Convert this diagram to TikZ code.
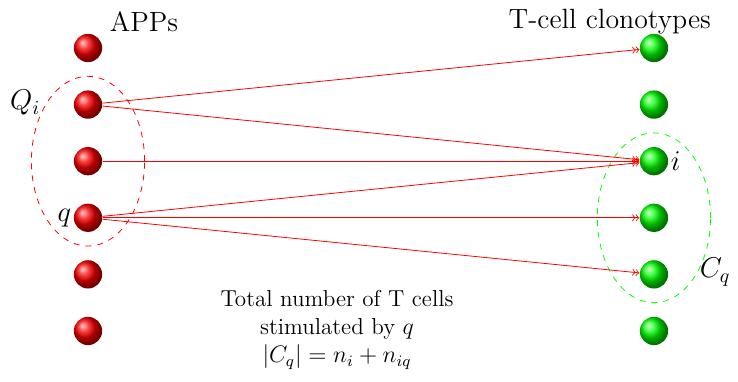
\documentclass[tikz,border=0pt]{standalone}
\usepackage{amsmath}
\usepackage{amssymb}
\usetikzlibrary{arrows}

\begin{document}
\begin{tikzpicture}[
		app/.style={circle, inner sep=0pt, minimum size=0.5cm, shading=ball, ball color=red},
		clono/.style={circle, inner sep=0pt, minimum size=0.5cm, shading=ball, ball color=green},
		stim/.style={red, ->>},
		etiq/.style={font=\fontsize{14}{17}\selectfont}]
	\useasboundingbox (-1.555,0.848) rectangle (11.485,-5.9);
	
	% Bolas de APPs y clonotipos
	\foreach \k in {0,...,5} {
		\node[app] (a\k) at (0,-\k) {};
		\node[clono] (c\k) at (10,-\k) {};
	}
	
	% Titulos
	\node[etiq] (apps) at (0.99,0.46) {APPs};
	\node[etiq] (tcells) at (9.22,0.46) {T-cell clonotypes};
	
	% Conjuntos Q_i y C_q
	\draw[red, dashed] (0,-2) ellipse (1 and 1.5);
	\draw[green, dashed] (10,-3) ellipse (1 and 1.5);
	\node[etiq] (Qi) at (-1.11,-0.97) {$Q_i$};
	\node[etiq, left, inner sep=1pt] (q) at (a3.west) {$q$};
	\node[etiq, right, inner sep=1pt] (i) at (c2.east) {$i$};
	\node[etiq] (Cq) at (11.08,-3.96) {$C_q$};
	
	% Estimulaciones
	\foreach \from/\to in {1/0, 1/2, 2/2, 3/2, 3/3, 3/4} {
		\draw[stim] (a\from) -- (c\to);
	}
	
	% Texto
	\node[align=center, font=\fontsize{11.6}{14}\selectfont] (total) at (4.4,-4.98) {Total number of T cells\\ stimulated by $q$\\ $|C_q| = n_i + n_{iq}$};
\end{tikzpicture}
\end{document}
